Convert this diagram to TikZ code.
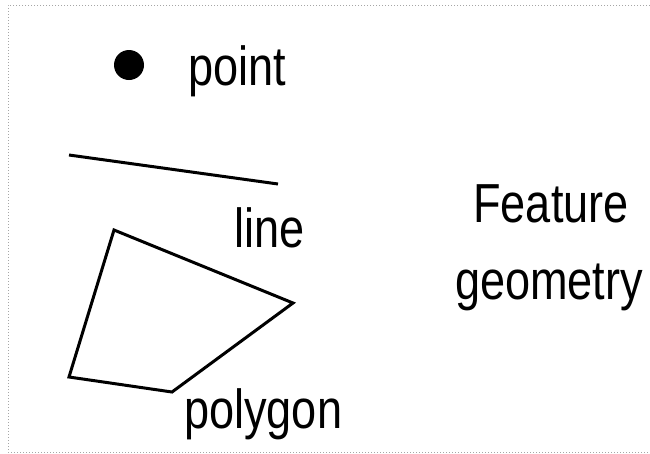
\documentclass[tikz,border=0pt]{standalone}
\usepackage{fontspec}
\setmainfont{Liberation Sans}[FakeStretch=0.82]
\begin{document}
\begin{tikzpicture}[x=1pt,y=-1pt,
  lbl/.style={font=\fontsize{55}{62}\selectfont, inner sep=0pt, anchor=base west},
  shp/.style={line width=3pt, line join=miter},
  frame/.style={gray!70, dotted, line width=1pt}]
\useasboundingbox (0,0) rectangle (650,453);
\draw[frame] (650,5) -- (8,5) -- (8,452) -- (650,452);
\fill (129,65) circle (15);
\node[lbl] (pt) at (188,85) {point};
\coordinate (l1) at (69,155);
\coordinate (l2) at (278,184);
\draw[shp] (l1) -- (l2);
\node[lbl] (ln) at (234,247) {line};
\coordinate (p1) at (114,230);
\coordinate (p2) at (293,303);
\coordinate (p3) at (172,392);
\coordinate (p4) at (69,377);
\draw[shp] (p1) -- (p2) -- (p3) -- (p4) -- cycle;
\node[lbl] (pg) at (184,428) {polygon};
\node[lbl, anchor=base] (f1) at (551,222) {Feature};
\node[lbl, anchor=base] (f2) at (549,299) {geometry};
\end{tikzpicture}
\end{document}
